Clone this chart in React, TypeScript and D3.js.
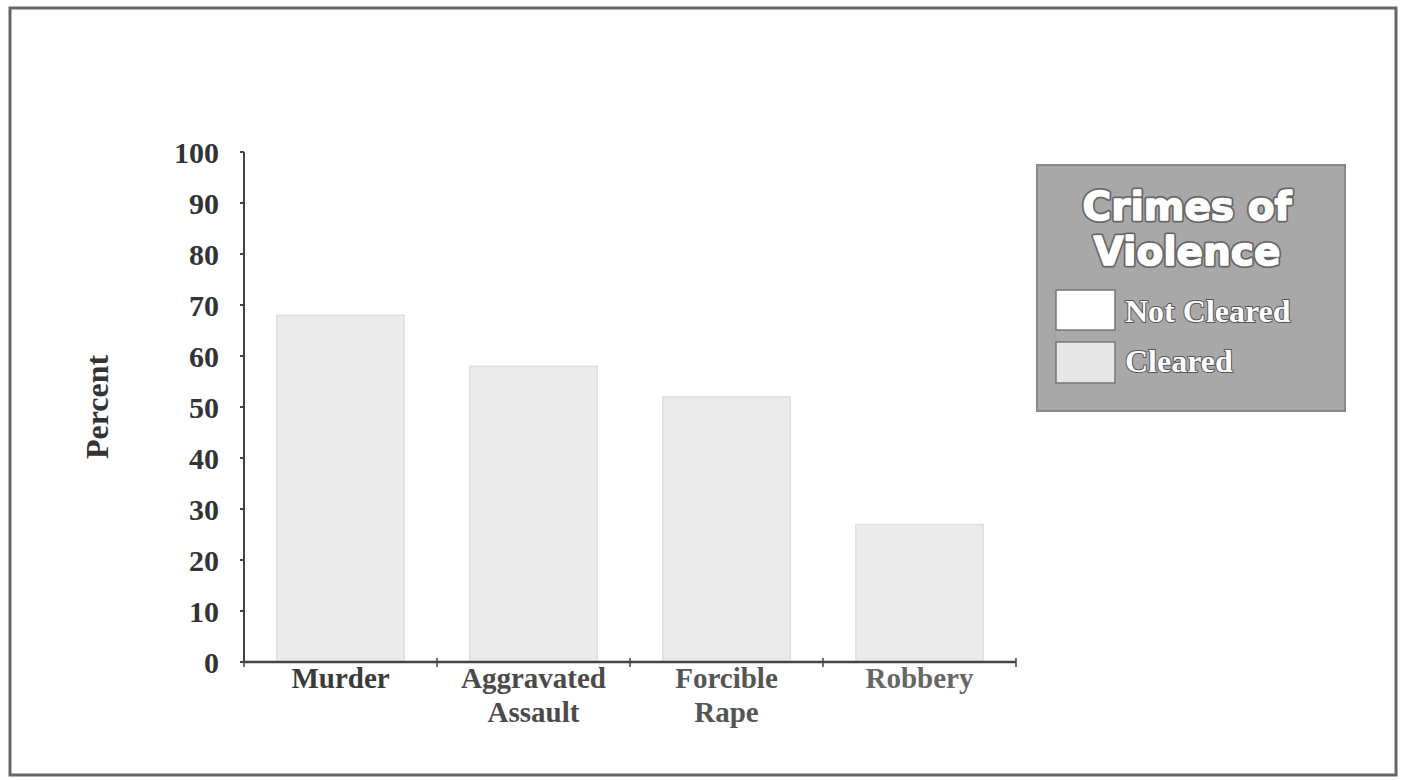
import React from "react";
import * as d3 from "d3";

const categories = ["Murder", "Aggravated|Assault", "Forcible|Rape", "Robbery"];
const cleared = [68, 58, 52, 27];
const notCleared = [32, 42, 48, 73];
const yTicks = [0, 10, 20, 30, 40, 50, 60, 70, 80, 90, 100];
const labelColors = ["#3a3a3a", "#4a4a4a", "#555555", "#666666"];

const W = 1405;
const H = 780;
const margin = { left: 244, right: 389, top: 152, bottom: 118 };

export default function App() {
  const x = d3
    .scaleBand<string>()
    .domain(categories)
    .range([margin.left, W - margin.right])
    .paddingInner(0.34)
    .paddingOuter(0.17);
  const y = d3.scaleLinear().domain([0, 100]).range([H - margin.bottom, margin.top]);
  const y0 = y(0);
  const step = x.step();
  const tickXs = d3.range(categories.length + 1).map((i) => margin.left + i * step);
  const serif = "'Liberation Serif', 'Times New Roman', serif";
  const titleFont = "'DejaVu Sans', Verdana, sans-serif";

  return (
    <svg
      width={W}
      height={H}
      style={{ position: "absolute", left: 0, top: 0, background: "#fff" }}
    >
      <rect x={10} y={8} width={1386} height={767} fill="#fff" stroke="#666" strokeWidth={3} />

      {/* bars */}
      {categories.map((c, i) => (
        <g key={c}>
          <rect
            x={x(c)}
            y={y(cleared[i] + notCleared[i])}
            width={x.bandwidth()}
            height={y(cleared[i]) - y(cleared[i] + notCleared[i])}
            fill="#ffffff"
          />
          <rect
            x={x(c)}
            y={y(cleared[i])}
            width={x.bandwidth()}
            height={y0 - y(cleared[i])}
            fill="#ebebeb"
            stroke="#d6d6d6"
            strokeWidth={1}
          />
        </g>
      ))}

      {/* y axis */}
      <line x1={margin.left} x2={margin.left} y1={y(100)} y2={y0} stroke="#444" strokeWidth={2} />
      {yTicks.map((t) => (
        <g key={t}>
          <line x1={margin.left - 4} x2={margin.left} y1={y(t)} y2={y(t)} stroke="#444" strokeWidth={2} />
          <text
            x={219}
            y={y(t)}
            dy="0.35em"
            textAnchor="end"
            fontFamily={serif}
            fontWeight="bold"
            fontSize={30}
            fill="#333"
          >
            {t}
          </text>
        </g>
      ))}

      {/* x axis */}
      <line x1={margin.left} x2={W - margin.right} y1={y0} y2={y0} stroke="#444" strokeWidth={2.5} />
      {tickXs.map((tx, i) => (
        <line key={i} x1={tx} x2={tx} y1={y0 - 4} y2={y0 + 5} stroke="#444" strokeWidth={1.5} />
      ))}
      {categories.map((c, i) => (
        <text
          key={c}
          x={(x(c) as number) + x.bandwidth() / 2}
          y={688}
          textAnchor="middle"
          fontFamily={serif}
          fontWeight="bold"
          fontSize={29}
          fill={labelColors[i]}
        >
          {c.split("|").map((line, j) => (
            <tspan key={j} x={(x(c) as number) + x.bandwidth() / 2} dy={j === 0 ? 0 : 34}>
              {line}
            </tspan>
          ))}
        </text>
      ))}

      <text
        transform={`translate(108, ${(y(100) + y0) / 2}) rotate(-90)`}
        textAnchor="middle"
        fontFamily={serif}
        fontWeight="bold"
        fontSize={32}
        fill="#333"
      >
        Percent
      </text>

      {/* legend */}
      <g>
        <rect x={1037} y={165} width={308} height={246} fill="#a8a8a8" stroke="#8a8a8a" strokeWidth={2} />
        {["Crimes of", "Violence"].map((t, i) => (
          <g key={t} fontFamily={titleFont} fontWeight="bold" fontSize={39} textAnchor="middle">
            <text x={1187} y={220 + i * 45} fill="#666" stroke="#666" strokeWidth={5} strokeLinejoin="round">
              {t}
            </text>
            <text x={1187} y={220 + i * 45} fill="#fff" stroke="#fff" strokeWidth={1.5} strokeLinejoin="round">
              {t}
            </text>
          </g>
        ))}
        <rect x={1056} y={290} width={59} height={40} fill="#fff" stroke="#777" strokeWidth={1.5} />
        <rect x={1056} y={342} width={59} height={41} fill="#e6e6e6" stroke="#777" strokeWidth={1.5} />
        <g fontFamily={serif} fontWeight="bold" fontSize={32}>
          <text x={1125} y={322} fill="#fff" stroke="#555" strokeWidth={2} paintOrder="stroke">
            Not Cleared
          </text>
          <text x={1125} y={372} fill="#fff" stroke="#555" strokeWidth={2} paintOrder="stroke">
            Cleared
          </text>
        </g>
      </g>
    </svg>
  );
}
